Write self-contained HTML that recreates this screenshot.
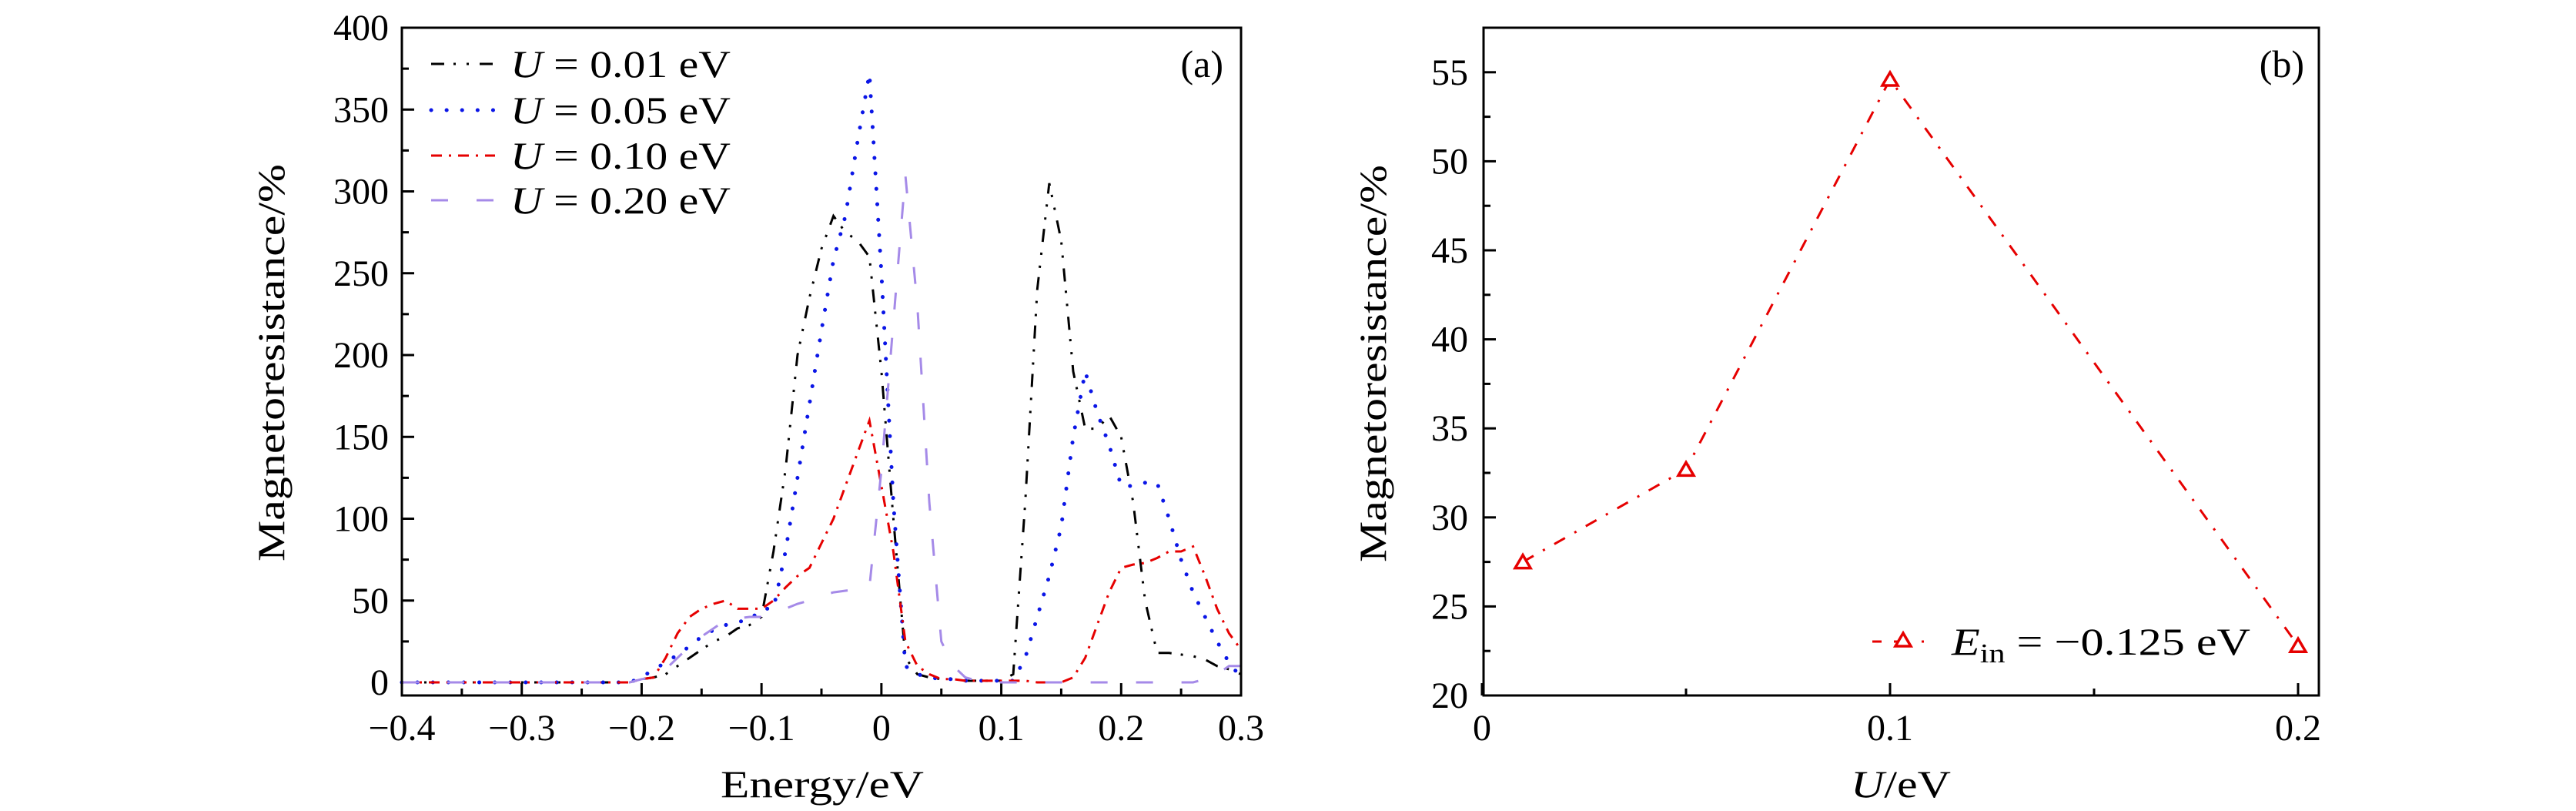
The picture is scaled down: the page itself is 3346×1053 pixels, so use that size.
<!DOCTYPE html>
<html><head><meta charset="utf-8"><style>
html,body{margin:0;padding:0;background:#fff;}
svg{display:block;font-family:"Liberation Serif",serif;}
</style></head><body>
<svg id="fig" width="3346" height="1053" viewBox="0 0 3346 1053" xmlns="http://www.w3.org/2000/svg">
<g id="pa"></g>
<g id="pb"></g>
</svg>
<script>
const energies = [];
for (let i = -40; i <= 30; i++) energies.push(i / 100);
const u001 = [0,0,0,0,0,0,0,0,0,0, 0,0,0,0,0,0,0,0,0,0, 2,3,5,10,15,20,25,28,33,35, 40,80,130,200,235,265,285,275,270,260, 190,100,15,5,3,2,2,1,1,1, 1,5,110,240,305,270,190,155,155,163, 150,110,50,18,18,17,16,14,10,8, 5];
const u005 = [0,0,0,0,0,0,0,0,0,0, 0,0,0,0,0,0,0,0,0,0, 3,8,12,17,22,28,32,35,37,38, 45,45,80,125,170,215,258,285,330,372, 250,110,10,5,3,2,2,1,1,1, 1,1,15,40,65,95,150,190,165,145, 120,120,122,122,100,75,55,40,25,12, 3];
const u010 = [0,0,0,0,0,0,0,0,0,0, 0,0,0,0,0,0,0,0,0,0, 2,3,15,30,40,45,48,50,45,45, 45,50,58,65,70,85,100,120,140,160, 120,80,25,10,5,2,2,1,1,1, 1,1,1,0,0,0,3,15,35,55, 70,72,73,76,80,80,83,65,45,30, 20];
const u020 = [0,0,0,0,0,0,0,0,0,0, 0,0,0,0,0,0,0,0,0,0, 2,3,8,15,22,28,33,38,39,40, 40,42,45,48,50,53,55,56,57,58, 130,220,310,230,110,25,10,3,1,0, 0,0,0,0,0,0,0,0,0,0, 0,0,0,0,0,0,0,2,5,10, 10];
const uVals = [0.01, 0.05, 0.10, 0.20];
const mrVals = [27.5, 32.7, 54.6, 22.8];
const aYTicks = [0,50,100,150,200,250,300,350,400];
const aXTicks = [-0.4,-0.3,-0.2,-0.1,0,0.1,0.2,0.3];
const aXLabels = ["\u22120.4","\u22120.3","\u22120.2","\u22120.1","0","0.1","0.2","0.3"];
const bYTicks = [20,25,30,35,40,45,50,55];
const bXTicks = [0,0.1,0.2];
const bXLabels = ["0","0.1","0.2"];

const NS = "http://www.w3.org/2000/svg";
function mk(parent, tag, attrs, text) {
  const e = document.createElementNS(NS, tag);
  for (const k in attrs) e.setAttribute(k, attrs[k]);
  if (text !== undefined) e.textContent = text;
  parent.appendChild(e);
  return e;
}

// ---------- Panel A ----------
const pa = document.getElementById('pa');
const aL = 522, aR = 1612, aT = 36, aB = 903;
const ax = v => aL + (v + 0.4) / 0.7 * (aR - aL);
const ay = v => 886 - v * 2.125;
for (let v = 25; v < 400; v += 50) {
  const t = mk(pa, 'line', {x1: aL, x2: aL + 9, y1: ay(v), y2: ay(v), stroke: '#000', 'stroke-width': 3});
  
  
}
for (let i = 0; i < 7; i++) {
  const v = -0.35 + i * 0.1;
  const t = mk(pa, 'line', {x1: ax(v), x2: ax(v), y1: aB, y2: aB - 9, stroke: '#000', 'stroke-width': 3});
  
  
}
aYTicks.forEach(v => {
  const t = mk(pa, 'line', {x1: aL, x2: aL + 16, y1: ay(v), y2: ay(v), stroke: '#000', 'stroke-width': 3});
  
  
  const l = mk(pa, 'text', {x: 505, y: ay(v) + 16, 'text-anchor': 'end', 'font-size': 48}, String(v));
  
  
});
aXTicks.forEach((v, i) => {
  const t = mk(pa, 'line', {x1: ax(v), x2: ax(v), y1: aB, y2: aB - 16, stroke: '#000', 'stroke-width': 3});
  
  
  const l = mk(pa, 'text', {x: ax(v), y: 961, 'text-anchor': 'middle', 'font-size': 48}, aXLabels[i]);
  
  
});
const seriesA = [
  {d: u001, c: '#000000', dash: '17 12 3 14 3 14', name: 'series-u-0.01', lab: '0.01'},
  {d: u005, c: '#0b16e6', dash: '0.1 20', cap: 'round', w: 5, name: 'series-u-0.05', lab: '0.05'},
  {d: u010, c: '#e60000', dash: '14 9 3 9', name: 'series-u-0.10', lab: '0.10'},
  {d: u020, c: '#a58ae8', dash: '22 37', name: 'series-u-0.20', lab: '0.20'}
];
seriesA.forEach((s, si) => {
  const pts = s.d.map((v, i) => ax(energies[i]).toFixed(1) + ',' + Math.max(aT, ay(v)).toFixed(1)).join(' ');
  const pl = mk(pa, 'polyline', {points: pts, fill: 'none', stroke: s.c, 'stroke-width': s.w || 3, 'stroke-dasharray': s.dash, 'stroke-linecap': s.cap || 'butt'});
  
  
  const ly = [83, 143, 202, 260][si];
  const g = mk(pa, 'g', {});
  
  
  mk(g, 'line', {x1: 560, x2: 643, y1: ly, y2: ly, stroke: s.c, 'stroke-width': s.w || 3, 'stroke-dasharray': s.dash, 'stroke-linecap': s.cap || 'butt'});
  const tx = mk(g, 'text', {x: 663, y: ly + 17, 'font-size': 50, textLength: 286, lengthAdjust: 'spacingAndGlyphs'});
  mk(tx, 'tspan', {'font-style': 'italic'}, 'U');
  mk(tx, 'tspan', {}, ' = ' + s.lab + '  eV');
});
const fa = mk(pa, 'rect', {x: aL, y: aT, width: aR - aL, height: aB - aT, fill: 'none', stroke: '#000', 'stroke-width': 3});


const pla = mk(pa, 'text', {x: 1589, y: 100, 'text-anchor': 'end', 'font-size': 50}, '(a)');


const xta = mk(pa, 'text', {x: 936, y: 1035, 'font-size': 50, textLength: 264, lengthAdjust: 'spacingAndGlyphs'}, 'Energy/eV');


const yta = mk(pa, 'text', {x: -258, y: 0, 'font-size': 50, textLength: 516, lengthAdjust: 'spacingAndGlyphs', transform: 'translate(369,471) rotate(-90)'}, 'Magnetoresistance/%');



// ---------- Panel B ----------
const pb = document.getElementById('pb');
const bL = 1927, bR = 3012, bT = 36, bB = 903;
const bx = v => 1925 + v / 0.05 * 265;
const by = v => bB - (v - 20) * 23.12;
for (let v = 22.5; v < 57.5; v += 5) {
  const t = mk(pb, 'line', {x1: bL, x2: bL + 9, y1: by(v), y2: by(v), stroke: '#000', 'stroke-width': 3});
  
  
}
[0.05, 0.15].forEach(v => {
  const t = mk(pb, 'line', {x1: bx(v), x2: bx(v), y1: bB, y2: bB - 9, stroke: '#000', 'stroke-width': 3});
  
  
});
bYTicks.forEach(v => {
  const t = mk(pb, 'line', {x1: bL, x2: bL + 16, y1: by(v), y2: by(v), stroke: '#000', 'stroke-width': 3});
  
  
  const l = mk(pb, 'text', {x: 1907, y: by(v) + 16, 'text-anchor': 'end', 'font-size': 48}, String(v));
  
  
});
bXTicks.forEach((v, i) => {
  const t = mk(pb, 'line', {x1: bx(v), x2: bx(v), y1: bB, y2: bB - 16, stroke: '#000', 'stroke-width': 3});
  
  
  const l = mk(pb, 'text', {x: bx(v), y: 961, 'text-anchor': 'middle', 'font-size': 48}, bXLabels[i]);
  
  
});
const ptsB = uVals.map((u, i) => bx(u).toFixed(1) + ',' + by(mrVals[i]).toFixed(1)).join(' ');
const lineB = mk(pb, 'polyline', {points: ptsB, fill: 'none', stroke: '#e60000', 'stroke-width': 3, 'stroke-dasharray': '16 14 3 14'});


function tri(g, cx, cy) {
  return mk(g, 'polygon', {points: `${cx},${cy - 9} ${cx - 10},${cy + 8} ${cx + 10},${cy + 8}`, fill: '#fff', stroke: '#e60000', 'stroke-width': 3.5});
}
uVals.forEach((u, i) => {
  const m = tri(pb, bx(u), by(mrVals[i]));
  
  
});
const lgb = mk(pb, 'g', {});


mk(lgb, 'line', {x1: 2432, x2: 2512, y1: 833, y2: 833, stroke: '#e60000', 'stroke-width': 3, 'stroke-dasharray': '12 16 20 16 3 20'});
tri(lgb, 2472, 831);
const tb = mk(lgb, 'text', {x: 2535, y: 850, 'font-size': 50, textLength: 388, lengthAdjust: 'spacingAndGlyphs'});
mk(tb, 'tspan', {'font-style': 'italic'}, 'E');
mk(tb, 'tspan', {'font-size': 35, dy: 10}, 'in');
mk(tb, 'tspan', {dy: -10}, ' = \u22120.125  eV');
const fb = mk(pb, 'rect', {x: bL, y: bT, width: bR - bL, height: bB - bT, fill: 'none', stroke: '#000', 'stroke-width': 3});


const plb = mk(pb, 'text', {x: 2993, y: 100, 'text-anchor': 'end', 'font-size': 50}, '(b)');


const xtb = mk(pb, 'text', {x: 2404, y: 1035, 'font-size': 50, textLength: 130, lengthAdjust: 'spacingAndGlyphs'});


mk(xtb, 'tspan', {'font-style': 'italic'}, 'U');
mk(xtb, 'tspan', {}, '/eV');
const ytb = mk(pb, 'text', {x: -258, y: 0, 'font-size': 50, textLength: 516, lengthAdjust: 'spacingAndGlyphs', transform: 'translate(1800,472) rotate(-90)'}, 'Magnetoresistance/%');


</script>
</body></html>
